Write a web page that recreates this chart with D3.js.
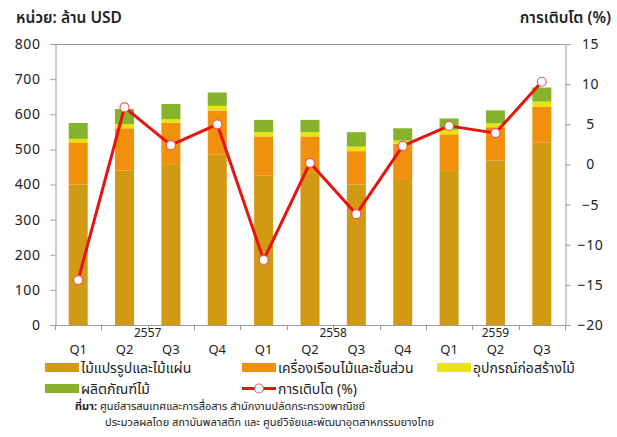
<!DOCTYPE html>
<html>
<head>
<meta charset="utf-8">
<script src="https://cdn.jsdelivr.net/npm/d3@7"></script>
<style>
  body { margin: 0; background: #fff; }
  svg text { font-family: "Noto Sans", "Noto Sans Thai", Tahoma, sans-serif; fill: #222; }
</style>
</head>
<body>
<svg id="chart" width="617" height="437"></svg>
<script>
// quarters and their years
const quarters = ['Q1', 'Q2', 'Q3', 'Q4', 'Q1', 'Q2', 'Q3', 'Q4', 'Q1', 'Q2', 'Q3']
const quarterYears = ['2557', '2557', '2557', '2557', '2558', '2558', '2558', '2558', '2559', '2559', '2559']

// export value, million USD
const processedWood = [400, 440, 458, 485, 425, 435, 400, 413, 441, 468, 519]
const furniture = [120, 120, 118, 125, 112, 102, 95, 103, 102, 95, 103]
const construction = [10, 12, 10, 14, 12, 12, 13, 9, 13, 11, 14]
const woodProducts = [45, 43, 43, 38, 35, 35, 41, 35, 32, 37, 40]
// growth, %
const growth = [-14.4, 7.1, 2.4, 5.0, -11.9, 0.2, -6.2, 2.3, 4.8, 3.9, 10.3]

const leftTicks = [0, 100, 200, 300, 400, 500, 600, 700, 800]
const rightTicks = [-20, -15, -10, -5, 0, 5, 10, 15]

const seriesNames = ['ไม้แปรรูปและไม้แผ่น', 'เครื่องเรือนไม้และชิ้นส่วน', 'อุปกรณ์ก่อสร้างไม้', 'ผลิตภัณฑ์ไม้']
const lineName = 'การเติบโต (%)'
const colors = ['#D29A14', '#F0900C', '#E8E40A', '#86B22C']
const lineColor = '#E8120E'

const config = {
    width: 617,
    height: 437,
    margin: {top: 44, right: 52, bottom: 112, left: 55}
}
const plotLeft = config.margin.left
const plotRight = config.width - config.margin.right
const plotTop = config.margin.top
const plotBottom = config.height - config.margin.bottom

const svg = d3.select('#chart')

// build table for the stack
const keys = ['p', 'f', 'c', 'w']
const table = quarters.map((q, i) => ({
    i: i, p: processedWood[i], f: furniture[i], c: construction[i], w: woodProducts[i]
}))
const stacked = d3.stack().keys(keys)(table)

const xScale = d3.scaleBand()
    .domain(d3.range(quarters.length))
    .range([plotLeft, plotRight])
    .paddingInner(0.59)
    .paddingOuter(0.295)

const yLeft = d3.scaleLinear().domain([0, 800]).range([plotBottom, plotTop])
const yRight = d3.scaleLinear().domain([-20, 15]).range([plotBottom, plotTop])

const axisColor = '#9a9a9a'

// top border of plot area
svg.append('line')
    .attr('x1', plotLeft).attr('x2', plotRight)
    .attr('y1', plotTop + 0.5).attr('y2', plotTop + 0.5)
    .attr('stroke', axisColor)

// left axis
const leftAxis = svg.append('g')
    .attr('transform', `translate(${plotLeft + 0.5},0)`)
    .call(d3.axisLeft(yLeft).tickValues(leftTicks).tickSize(5).tickPadding(10))
leftAxis.selectAll('path, line').attr('stroke', axisColor)
leftAxis.selectAll('text').style('font-size', '14px').attr('letter-spacing', '0.6px')

// right axis
const rightAxis = svg.append('g')
    .attr('transform', `translate(${plotRight + 0.5},0)`)
    .call(d3.axisRight(yRight).tickValues(rightTicks).tickSize(5).tickPadding(10))
rightAxis.selectAll('path, line').attr('stroke', axisColor)
rightAxis.selectAll('text')
    .style('font-size', '14px')
    .attr('letter-spacing', '0.6px')
    .attr('text-anchor', 'middle')
    .attr('x', 25)

// bottom axis line with ticks between categories
svg.append('line')
    .attr('x1', plotLeft).attr('x2', plotRight)
    .attr('y1', plotBottom + 0.5).attr('y2', plotBottom + 0.5)
    .attr('stroke', axisColor)
svg.append('g')
    .selectAll('line')
    .data(d3.range(quarters.length + 1))
    .join('line')
    .attr('x1', d => Math.round(plotLeft + d * xScale.step()) + 0.5)
    .attr('x2', d => Math.round(plotLeft + d * xScale.step()) + 0.5)
    .attr('y1', plotBottom)
    .attr('y2', plotBottom + 5)
    .attr('stroke', axisColor)

// bars
svg.append('g')
    .selectAll('g')
    .data(stacked)
    .join('g')
    .attr('fill', (d, i) => colors[i])
    .selectAll('rect')
    .data(d => d)
    .join('rect')
    .attr('x', d => xScale(d.data.i))
    .attr('y', d => yLeft(d[1]))
    .attr('width', xScale.bandwidth())
    .attr('height', d => yLeft(d[0]) - yLeft(d[1]))

// growth line
const cx = i => xScale(i) + xScale.bandwidth() / 2
svg.append('path')
    .datum(growth)
    .attr('fill', 'none')
    .attr('stroke', lineColor)
    .attr('stroke-width', 3)
    .attr('stroke-linejoin', 'round')
    .attr('d', d3.line().x((d, i) => cx(i)).y(d => yRight(d)))

svg.append('g')
    .selectAll('circle')
    .data(growth)
    .join('circle')
    .attr('cx', (d, i) => cx(i))
    .attr('cy', d => yRight(d))
    .attr('r', 4.5)
    .attr('fill', '#fff')
    .attr('stroke', '#E25C5C')
    .attr('stroke-width', 1.2)

// quarter labels
svg.append('g')
    .selectAll('text')
    .data(quarters)
    .join('text')
    .attr('x', (d, i) => cx(i))
    .attr('y', 354)
    .attr('text-anchor', 'middle')
    .style('font-size', '13px')
    .text(d => d)

// year labels centred on their group of quarters
const yearGroups = d3.groups(quarters.map((q, i) => ({i, y: quarterYears[i]})), d => d.y)
svg.append('g')
    .selectAll('text')
    .data(yearGroups)
    .join('text')
    .attr('x', d => {
        const first = d[1][0].i
        const last = d[1][d[1].length - 1].i
        return plotLeft + xScale.step() * (first + last + 1) / 2
    })
    .attr('y', 336.5)
    .attr('text-anchor', 'middle')
    .style('font-size', '12px')
    .text(d => d[0])

// axis titles
svg.append('text')
    .attr('x', 16).attr('y', 23)
    .style('font-size', '15.5px')
    .style('font-weight', '600')
    .text('หน่วย: ล้าน USD')
svg.append('text')
    .attr('x', 611).attr('y', 23)
    .attr('text-anchor', 'end')
    .style('font-size', '15.5px')
    .style('font-weight', '600')
    .text('การเติบโต (%)')

// legend
const legendItems = [
    {name: seriesNames[0], color: colors[0], x: 45, y: 363},
    {name: seriesNames[1], color: colors[1], x: 242, y: 363},
    {name: seriesNames[2], color: colors[2], x: 437, y: 363},
    {name: seriesNames[3], color: colors[3], x: 45, y: 384}
]
const legend = svg.append('g')
legend.selectAll('rect')
    .data(legendItems)
    .join('rect')
    .attr('x', d => d.x).attr('y', d => d.y)
    .attr('width', 34).attr('height', 9)
    .attr('fill', d => d.color)
legend.selectAll('text')
    .data(legendItems)
    .join('text')
    .attr('x', d => d.x + 36).attr('y', d => d.y + 10)
    .style('font-size', '14px')
    .text(d => d.name)

legend.append('line')
    .attr('x1', 242).attr('x2', 276)
    .attr('y1', 388.5).attr('y2', 388.5)
    .attr('stroke', lineColor).attr('stroke-width', 3)
legend.append('circle')
    .attr('cx', 259).attr('cy', 388.5).attr('r', 4.5)
    .attr('fill', '#fff').attr('stroke', '#E25C5C').attr('stroke-width', 1.2)
legend.append('text')
    .attr('x', 278).attr('y', 394)
    .style('font-size', '14px')
    .text(lineName)

// source note
const note = svg.append('g').style('font-size', '11px')
const line1 = note.append('text').attr('x', 75).attr('y', 410)
line1.append('tspan').style('font-weight', 'bold').text('ที่มา: ')
line1.append('tspan').text('ศูนย์สารสนเทศและการสื่อสาร สำนักงานปลัดกระทรวงพาณิชย์')
note.append('text').attr('x', 105).attr('y', 426)
    .text('ประมวลผลโดย สถาบันพลาสติก และ ศูนย์วิจัยและพัฒนาอุตสาหกรรมยางไทย')
</script>
</body>
</html>
